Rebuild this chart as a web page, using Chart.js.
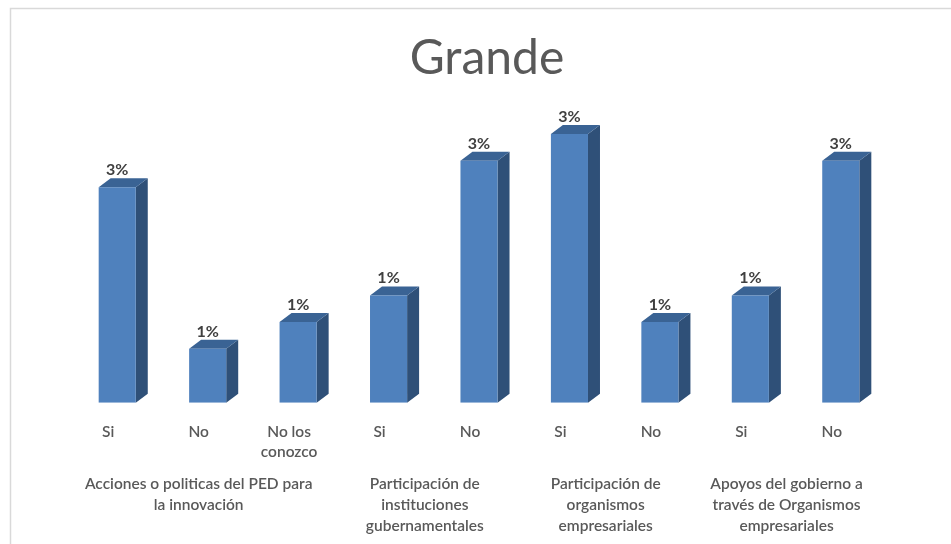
<!DOCTYPE html>
<html>
<head>
<meta charset="utf-8">
<style>
  html, body { margin: 0; padding: 0; background: #fff; }
  #wrap { width: 951px; height: 544px; position: relative; }
</style>
</head>
<body>
<div id="wrap"><canvas id="grandeChart" width="951" height="544"></canvas></div>
<script src="https://cdn.jsdelivr.net/npm/chart.js@4/dist/chart.umd.min.js"></script>
<script>
const categories = ["Si", "No", ["No los", "conozco"], "Si", "No", "Si", "No", "Si", "No"];
const values = [2.67, 0.67, 1, 1.33, 3, 3.33, 1, 1.33, 3];

// group captions under the answers, first and last bar index of each group
const groupLabels = [
  ["Acciones o politicas del PED para", "la innovación"],
  ["Participación de", "instituciones", "gubernamentales"],
  ["Participación de", "organismos", "empresariales"],
  ["Apoyos del gobierno a", "través de Organismos", "empresariales"]
];
const groupStart = [0, 3, 5, 7];
const groupEnd = [2, 4, 6, 8];

const textColor = "#595959";
const fontName = "Lato, Carlito, sans-serif";

// draws the side and top faces of each bar, then its value label
const bar3d = {
  id: "bar3d",
  beforeDatasetsDraw(c) {
    const ctx = c.ctx;
    const depthX = 12, depthY = 9;
    c.getDatasetMeta(0).data.forEach(bar => {
      const left = bar.x - bar.width / 2;
      const right = bar.x + bar.width / 2;
      ctx.fillStyle = "#2f5078";
      ctx.beginPath();
      ctx.moveTo(right, bar.y);
      ctx.lineTo(right + depthX, bar.y - depthY);
      ctx.lineTo(right + depthX, bar.base - depthY);
      ctx.lineTo(right, bar.base);
      ctx.closePath();
      ctx.fill();
      ctx.fillStyle = "#3a6394";
      ctx.beginPath();
      ctx.moveTo(left, bar.y);
      ctx.lineTo(left + depthX, bar.y - depthY);
      ctx.lineTo(right + depthX, bar.y - depthY);
      ctx.lineTo(right, bar.y);
      ctx.closePath();
      ctx.fill();
    });
  },
  afterDatasetsDraw(c) {
    const ctx = c.ctx;
    ctx.fillStyle = "#404040";
    ctx.font = "bold 16px " + fontName;
    ctx.textAlign = "center";
    ctx.textBaseline = "alphabetic";
    c.getDatasetMeta(0).data.forEach((bar, i) => {
      ctx.fillText(Math.round(values[i]) + "%", bar.x, bar.y - 12);
    });
  }
};

// title, group captions and the thin frame round the chart
const extras = {
  id: "extras",
  afterDraw(c) {
    const ctx = c.ctx;
    const xs = c.scales.x;
    ctx.strokeStyle = "#d9d9d9";
    ctx.lineWidth = 1.5;
    ctx.beginPath();
    ctx.moveTo(10.5, 544);
    ctx.lineTo(10.5, 8.5);
    ctx.lineTo(951, 8.5);
    ctx.stroke();

    ctx.fillStyle = textColor;
    ctx.textAlign = "center";
    ctx.textBaseline = "alphabetic";
    ctx.font = "48px " + fontName;
    ctx.fillText("Grande", 487, 74);

    ctx.font = "600 15.5px " + fontName;
    groupLabels.forEach((lines, i) => {
      const mid = (xs.getPixelForValue(groupStart[i]) + xs.getPixelForValue(groupEnd[i])) / 2 - 9;
      lines.forEach((line, n) => ctx.fillText(line, mid, 488.5 + n * 21));
    });
  }
};

new Chart(document.getElementById("grandeChart"), {
  type: "bar",
  data: {
    labels: categories,
    datasets: [{
      data: values,
      backgroundColor: "#4f81bd",
      borderWidth: 0,
      categoryPercentage: 1,
      barPercentage: 0.41
    }]
  },
  options: {
    responsive: false,
    animation: false,
    layout: { padding: { left: 72, right: 65, top: 84, bottom: 71 } },
    plugins: {
      legend: { display: false },
      tooltip: { enabled: false }
    },
    scales: {
      x: {
        grid: { display: false },
        border: { display: false },
        ticks: {
          color: textColor,
          font: { family: fontName, size: 15.5, weight: "600", lineHeight: 1.3 },
          maxRotation: 0,
          autoSkip: false,
          labelOffset: -9,
          padding: 11
        }
      },
      y: { display: false, min: 0, max: 3.95 }
    }
  },
  plugins: [bar3d, extras]
});
</script>
</body>
</html>
